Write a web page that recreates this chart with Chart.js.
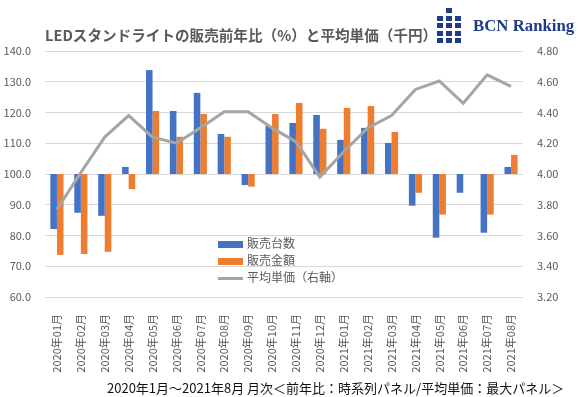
<!DOCTYPE html>
<html>
<head>
<meta charset="utf-8">
<script src="https://cdn.jsdelivr.net/npm/chart.js@4/dist/chart.umd.min.js"></script>
<style>
  body { margin: 0; background: #fff; }
  #wrap { position: relative; width: 580px; height: 397px; font-family: 'Noto Sans CJK JP', 'Noto Sans', sans-serif; }
  #title { position: absolute; left: 45px; top: 25px; font-size: 14.6px; font-weight: bold; color: #595959; white-space: nowrap; line-height: 20px; }
  #logo { position: absolute; left: 437px; top: 8px; width: 26px; height: 36px; }
  #logo span { position: absolute; width: 6px; height: 5px; background: #1f3c88; }
  #brand { position: absolute; left: 473px; top: 16px; font-family: 'Liberation Serif', serif; font-weight: bold; font-size: 16.8px; color: #1f3c88; white-space: nowrap; line-height: 20px; }
  #legend { position: absolute; left: 218px; top: 234px; font-size: 12px; color: #595959; }
  #legend div { height: 17px; line-height: 17px; white-space: nowrap; }
  #legend i { display: inline-block; width: 25px; vertical-align: middle; margin-right: 4px; }
  #note { position: absolute; left: 107px; top: 379px; font-size: 13px; color: #111; white-space: nowrap; line-height: 18px; }
  canvas { position: absolute; left: 0; top: 0; }
</style>
</head>
<body>
<div id="wrap">
  <canvas id="chart" width="580" height="397"></canvas>
  <div id="title">LEDスタンドライトの販売前年比（%）と平均単価（千円）</div>
  <div id="logo"></div>
  <div id="brand">BCN Ranking</div>
  <div id="legend"></div>
  <div id="note">2020年1月～2021年8月 月次＜前年比：時系列パネル/平均単価：最大パネル＞</div>
</div>
<script>
// データ
const months = ['2020年01月', '2020年02月', '2020年03月', '2020年04月', '2020年05月', '2020年06月',
  '2020年07月', '2020年08月', '2020年09月', '2020年10月', '2020年11月', '2020年12月',
  '2021年01月', '2021年02月', '2021年03月', '2021年04月', '2021年05月', '2021年06月',
  '2021年07月', '2021年08月'];
const units = [82.1, 87.4, 86.4, 102.3, 133.8, 120.5, 126.4, 113.0, 96.4, 115.6, 116.6, 119.2,
  111.1, 115.0, 110.1, 89.7, 79.3, 93.9, 80.9, 102.3];   // 販売台数 前年比
const sales = [73.7, 74.0, 74.7, 95.1, 120.5, 112.1, 119.5, 112.1, 95.9, 119.5, 123.1, 114.7,
  121.5, 122.1, 113.7, 93.9, 86.8, 100.0, 86.8, 106.2];  // 販売金額 前年比
const price = [3.77, 4.01, 4.24, 4.38, 4.24, 4.20, 4.30, 4.405, 4.405, 4.30, 4.21, 3.98,
  4.145, 4.30, 4.38, 4.55, 4.605, 4.46, 4.645, 4.57];   // 平均単価（千円）
const base = 100;

// ロゴの四角
const logoCells = [[1, 0], [0, 1], [1, 1], [2, 1], [0, 2], [1, 2], [2, 2], [0, 3], [1, 3], [2, 3], [0, 4], [1, 4], [2, 4]];
const logo = document.getElementById('logo');
logoCells.forEach(c => {
  const s = document.createElement('span');
  s.style.left = (c[0] * 9) + 'px';
  s.style.top = (c[1] * 7.5) + 'px';
  logo.appendChild(s);
});

Chart.defaults.font.family = "'Noto Sans CJK JP', 'Noto Sans', sans-serif";
Chart.defaults.font.size = 11;
Chart.defaults.color = '#595959';

const chart = new Chart(document.getElementById('chart'), {
  type: 'bar',
  data: {
    labels: months,
    datasets: [{
      label: '販売台数',
      data: units.map(v => [base, v]),
      backgroundColor: '#4472c4',
      yAxisID: 'y',
      order: 1
    }, {
      label: '販売金額',
      data: sales.map(v => [base, v]),
      backgroundColor: '#ed7d31',
      yAxisID: 'y',
      order: 1
    }, {
      type: 'line',
      label: '平均単価（右軸）',
      data: price,
      borderColor: '#a5a5a5',
      borderWidth: 3,
      pointRadius: 0,
      tension: 0,
      yAxisID: 'y1',
      order: 0
    }]
  },
  options: {
    responsive: false,
    animation: false,
    categoryPercentage: 0.55,
    barPercentage: 1,
    layout: { padding: { top: 51, left: 0, right: 0, bottom: 0 } },
    plugins: { legend: { display: false }, tooltip: { enabled: false } },
    scales: {
      x: {
        grid: { display: false },
        border: { display: false },
        ticks: { minRotation: 90, maxRotation: 90, padding: 9, autoSkip: false },
        afterFit: s => { s.height = 100; }
      },
      y: {
        position: 'left',
        min: 60, max: 140,
        grid: { color: '#d9d9d9', drawTicks: false },
        border: { display: false },
        ticks: { stepSize: 10, padding: 14, callback: v => v.toFixed(1) },
        afterFit: s => { s.width = 45; }
      },
      y1: {
        position: 'right',
        min: 3.2, max: 4.8,
        grid: { display: false, drawTicks: false },
        border: { display: false },
        ticks: { stepSize: 0.2, padding: 14, callback: v => v.toFixed(2) },
        afterFit: s => { s.width = 57; }
      }
    }
  }
});

// 凡例
const legend = document.getElementById('legend');
chart.data.datasets.forEach(ds => {
  const row = document.createElement('div');
  const sw = document.createElement('i');
  if (ds.type === 'line') {
    sw.style.height = '3px';
    sw.style.background = ds.borderColor;
  } else {
    sw.style.height = '7px';
    sw.style.background = ds.backgroundColor;
  }
  row.appendChild(sw);
  row.appendChild(document.createTextNode(ds.label));
  legend.appendChild(row);
});
</script>
</body>
</html>
